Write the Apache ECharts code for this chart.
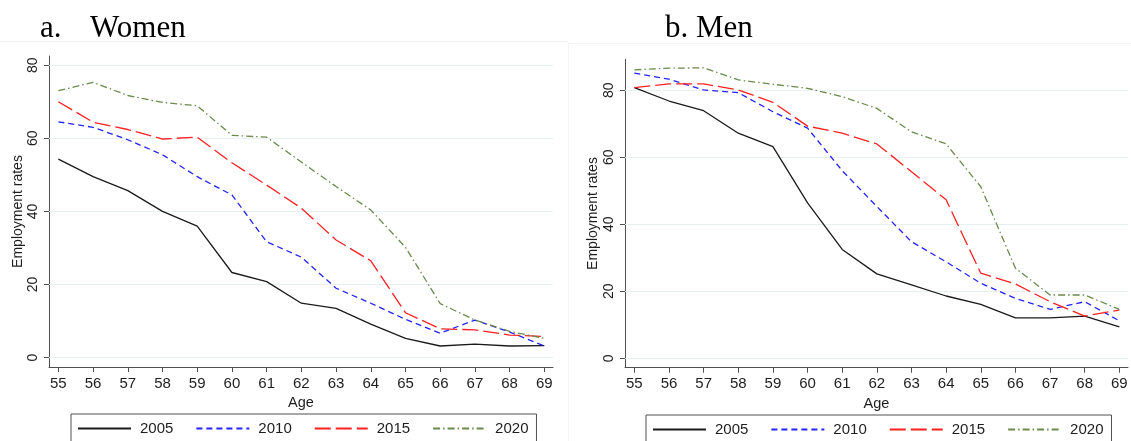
<!DOCTYPE html>
<html>
<head>
<meta charset="utf-8">
<script src="https://cdn.jsdelivr.net/npm/echarts@6/dist/echarts.min.js"></script>
<style>
html,body{margin:0;padding:0;background:#fff;}
#c{width:1131px;height:441px;}
</style>
</head>
<body>
<div id="c"></div>
<script>
// ---- data ----
var ages = [55,56,57,58,59,60,61,62,63,64,65,66,67,68,69];
var years = ['2005','2010','2015','2020'];
var yTicks = [0,20,40,60,80];

var women2005 = [54.3,49.5,45.7,40.0,36.0,23.3,20.8,14.9,13.5,9.2,5.3,3.2,3.7,3.2,3.3];
var women2010 = [64.5,63.0,59.6,55.5,49.5,44.5,31.7,27.5,19.0,14.9,10.5,6.7,10.3,7.0,3.2];
var women2015 = [70.0,64.4,62.4,59.8,60.3,53.3,47.2,40.9,32.2,26.5,12.3,7.9,7.6,6.2,5.8];
var women2020 = [73.0,75.3,71.7,69.8,68.9,60.8,60.3,53.5,46.8,40.4,30.2,14.8,10.3,7.2,5.3];

var men2005 = [80.8,76.8,73.9,67.2,63.2,46.4,32.5,25.2,21.9,18.6,16.1,12.1,12.1,12.6,9.4];
var men2010 = [85.1,83.3,80.1,79.3,73.6,68.7,56.0,45.3,34.8,28.8,22.4,17.9,14.6,16.9,11.2];
var men2015 = [80.8,81.9,81.9,80.1,76.4,69.3,67.2,64.0,55.7,47.3,25.4,22.2,16.9,12.6,14.4];
var men2020 = [86.1,86.6,86.7,83.1,81.8,80.6,78.1,74.6,67.6,64.0,51.2,26.9,18.9,18.9,14.6];

// ---- styles ----
var colors = {'2005':'#1a1a1a','2010':'#2323ff','2015':'#ff2020','2020':'#6b8a4c'};
var dashes = {'2005':'solid','2010':[6,4],'2015':[16,5],'2020':[7,3,1.5,3]};

function pairs(vals){ return ages.map(function(a,i){ return [a, vals[i]]; }); }

function mkSeries(name, vals, idx){
  return {
    name: name, type:'line', xAxisIndex: idx, yAxisIndex: idx,
    data: pairs(vals), symbol:'none', showSymbol:false, z: 6,
    lineStyle:{color: colors[name], width:1.3, type: dashes[name]},
    itemStyle:{color: colors[name]},
    emphasis:{disabled:true}, animation:false
  };
}
function gridSeries(idx){
  return {
    type:'line', xAxisIndex: idx, yAxisIndex: idx, data: [], z: 1, silent:true,
    markLine:{silent:true, symbol:'none', animation:false, z:1,
      label:{show:false},
      lineStyle:{color:'#e9f0f2', width:1.2, type:'solid'},
      emphasis:{disabled:true},
      data: yTicks.map(function(v){ return {yAxis:v}; })
    }
  };
}

var axisCol = '#505050';
var labCol = '#1e1e1e';
var font = 'Liberation Sans, Arial, sans-serif';
var serif = 'Liberation Serif, Times New Roman, serif';

function xAx(idx){
  return {
    type:'value', gridIndex: idx, min:54.73, max:69.25,
    name:'Age', nameLocation:'middle', nameGap:25,
    nameTextStyle:{fontFamily:font, fontSize:14.5, color:labCol},
    axisLine:{show:true, onZero:false, lineStyle:{color:axisCol, width:1}},
    axisTick:{show:true, length:5, customValues: ages, lineStyle:{color:axisCol}},
    axisLabel:{customValues: ages, margin:9, fontFamily:font, fontSize:15, color:labCol},
    splitLine:{show:false}
  };
}
function yAx(idx, mn, mx, gap){
  return {
    type:'value', gridIndex: idx, min:mn, max:mx,
    name:'Employment rates', nameLocation:'middle', nameGap:gap,
    nameTextStyle:{fontFamily:font, fontSize:14, color:labCol},
    axisLine:{show:true, onZero:false, lineStyle:{color:axisCol, width:1}},
    axisTick:{show:true, length:5, customValues: yTicks, lineStyle:{color:axisCol}},
    axisLabel:{customValues: yTicks, rotate:90, margin:9, fontFamily:font, fontSize:14, color:labCol},
    splitLine:{show:false}
  };
}
function legend(left, top){
  return {
    left:left, top:top, orient:'horizontal',
    data: years, itemWidth:53, itemHeight:14, itemGap:22,
    padding:[7,8,7,6], borderColor:'#505050', borderWidth:1, backgroundColor:'#fff',
    itemStyle:{opacity:0},
    textStyle:{fontFamily:font, fontSize:15, color:labCol, padding:[0,0,0,4]},
    selectedMode:false
  };
}

var chart = echarts.init(document.getElementById('c'), null, {renderer:'canvas'});
chart.setOption({
  backgroundColor:'#fff',
  animation:false,
  title:[
    {text:'a.', left:35, top:8, textStyle:{fontFamily:serif, fontSize:31, fontWeight:'normal', color:'#000'}},
    {text:'Women', left:85, top:8, textStyle:{fontFamily:serif, fontSize:31, fontWeight:'normal', color:'#000'}},
    {text:'b. Men', left:660, top:8, textStyle:{fontFamily:serif, fontSize:31, fontWeight:'normal', color:'#000'}}
  ],
  graphic:[
    {type:'line', shape:{x1:0,y1:41.5,x2:568,y2:41.5}, style:{stroke:'#f3f3f3', lineWidth:1}, silent:true},
    {type:'line', shape:{x1:568,y1:43.5,x2:1131,y2:43.5}, style:{stroke:'#f3f3f3', lineWidth:1}, silent:true},
    {type:'line', shape:{x1:568.5,y1:43.5,x2:568.5,y2:441}, style:{stroke:'#f3f3f3', lineWidth:1}, silent:true}
  ],
  grid:[
    {left:49, top:56, right:1131-553, bottom:441-367, containLabel:false},
    {left:625, top:59.3, right:3, bottom:441-367.7, containLabel:false}
  ],
  xAxis:[xAx(0), xAx(1)],
  yAxis:[yAx(0,-2.54,82.5,24), yAx(1,-2.8,89.25,25)],
  legend:[legend(71,414), legend(646,415)],
  series:[
    gridSeries(0), gridSeries(1),
    mkSeries('2005', women2005, 0), mkSeries('2010', women2010, 0),
    mkSeries('2015', women2015, 0), mkSeries('2020', women2020, 0),
    mkSeries('2005', men2005, 1), mkSeries('2010', men2010, 1),
    mkSeries('2015', men2015, 1), mkSeries('2020', men2020, 1)
  ]
});
</script>
</body>
</html>
